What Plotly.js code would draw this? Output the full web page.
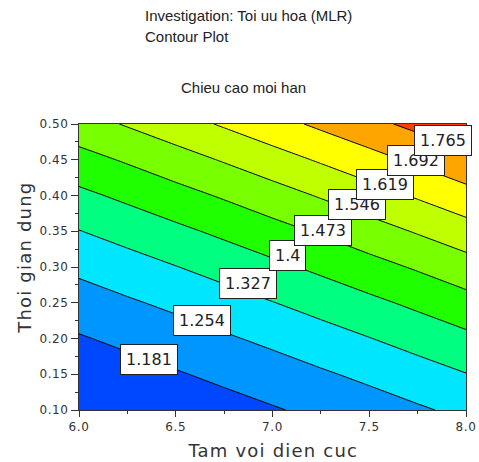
<!DOCTYPE html>
<html>
<head>
<meta charset="utf-8">
<script src="https://cdn.plot.ly/plotly-3.0.1.min.js"></script>
<style>
  html, body { margin: 0; padding: 0; background: #fff; }
  #chart { width: 479px; height: 462px; }
  .xtick text, .ytick text { letter-spacing: 0.6px; }
  .annotation[data-index="3"] text, .annotation[data-index="4"] text { letter-spacing: 1.2px; }
</style>
</head>
<body>
<div id="chart"></div>
<script>
// ---- data ----
const xVals = [6.0, 6.25, 6.5, 6.75, 7.0, 7.25, 7.5, 7.75, 8.0];          // Tam voi dien cuc
const yVals = [0.10, 0.15, 0.20, 0.25, 0.30, 0.35, 0.40, 0.45, 0.50];     // Thoi gian dung
const zRows = [                                                           // Chieu cao moi han
  [1.098, 1.115, 1.134, 1.154, 1.175, 1.197, 1.220, 1.245, 1.270],
  [1.134, 1.154, 1.175, 1.197, 1.220, 1.245, 1.270, 1.297, 1.325],
  [1.175, 1.197, 1.220, 1.245, 1.270, 1.297, 1.325, 1.354, 1.384],
  [1.220, 1.245, 1.270, 1.297, 1.325, 1.354, 1.384, 1.415, 1.448],
  [1.270, 1.297, 1.325, 1.354, 1.384, 1.415, 1.448, 1.481, 1.516],
  [1.325, 1.354, 1.384, 1.415, 1.448, 1.481, 1.516, 1.552, 1.589],
  [1.384, 1.415, 1.448, 1.481, 1.516, 1.552, 1.589, 1.627, 1.666],
  [1.448, 1.481, 1.516, 1.552, 1.589, 1.627, 1.666, 1.706, 1.748],
  [1.516, 1.552, 1.589, 1.627, 1.666, 1.706, 1.746, 1.784, 1.825]
];
const levels = [1.181, 1.254, 1.327, 1.4, 1.473, 1.546, 1.619, 1.692, 1.765];
const xTicks = [6.0, 6.5, 7.0, 7.5, 8.0];
const yTicks = [0.10, 0.15, 0.20, 0.25, 0.30, 0.35, 0.40, 0.45, 0.50];
const titleLines = ["Investigation: Toi uu hoa (MLR)", "Contour Plot"];
const plotTitle = "Chieu cao moi han";
const xTitle = "Tam voi dien cuc";
const yTitle = "Thoi gian dung";

// ---- styles / positions ----
const bandColors = ["#0048ff", "#0096ff", "#00e6ff", "#00ff80", "#20ff00",
                    "#78ff00", "#c0ff00", "#ffff00", "#ffa500", "#ff4000"];
const labelPos = [ // data-space centres of the boxed contour labels
  [6.361, 0.1713], [6.638, 0.2245], [6.873, 0.2776], [7.080, 0.3154], [7.260, 0.351],
  [7.439, 0.388], [7.581, 0.415], [7.742, 0.4483], [7.881, 0.4769]
];

const step = levels[1] - levels[0];
const colorscale = bandColors.map((c, i) => [i / (bandColors.length - 1), c]);

const trace = {
  type: 'contour',
  x: xVals, y: yVals, z: zRows,
  autocontour: false,
  contours: { start: levels[0], end: levels[levels.length - 1], size: step,
              coloring: 'fill', showlines: true, showlabels: false },
  colorscale: colorscale,
  showscale: false,
  line: { color: '#000', width: 1, smoothing: 0 },
  hoverinfo: 'skip'
};

const titleFont = { family: 'Liberation Sans, Arial, sans-serif', size: 15, color: '#222' };
const axFont = { family: 'DejaVu Sans, sans-serif', size: 18, color: '#333' };

const annotations = [
  { text: titleLines[0], xref: 'paper', yref: 'paper', x: 0.1654, y: 1.381, xanchor: 'left', yanchor: 'middle', showarrow: false, font: titleFont },
  { text: titleLines[1], xref: 'paper', yref: 'paper', x: 0.1654, y: 1.306, xanchor: 'left', yanchor: 'middle', showarrow: false, font: titleFont },
  { text: plotTitle, xref: 'paper', yref: 'paper', x: 0.425, y: 1.129, xanchor: 'center', yanchor: 'middle', showarrow: false, font: titleFont },
  { text: xTitle, xref: 'paper', yref: 'paper', x: 0.5, y: -0.143, xanchor: 'center', yanchor: 'middle', showarrow: false, font: axFont },
  { text: yTitle, xref: 'paper', yref: 'paper', x: -0.140, y: 0.533, xanchor: 'center', yanchor: 'middle', textangle: -90, showarrow: false, font: axFont }
];
levels.forEach((lv, i) => {
  annotations.push({
    text: String(lv), x: labelPos[i][0], y: labelPos[i][1], xref: 'x', yref: 'y',
    xanchor: 'center', yanchor: 'middle', showarrow: false,
    bgcolor: '#fff', bordercolor: '#222', borderwidth: 1, borderpad: 5,
    font: { family: 'DejaVu Sans, sans-serif', size: 16, color: '#222' }
  });
});

const tickFont = { family: 'DejaVu Sans, sans-serif', size: 12, color: '#333' };
const layout = {
  width: 479, height: 462,
  margin: { l: 79, r: 13, t: 124, b: 52, pad: 0 },
  paper_bgcolor: '#fff', plot_bgcolor: '#fff',
  showlegend: false,
  xaxis: {
    range: [xTicks[0], xTicks[xTicks.length - 1]], tickvals: xTicks, tickformat: '.1f',
    ticks: 'outside', ticklen: 6, tickcolor: '#333', tickfont: tickFont,
    minor: { dtick: 0.25, ticks: 'outside', ticklen: 3, tickcolor: '#333', showgrid: false },
    showgrid: false, zeroline: false, showline: true, mirror: true, linecolor: '#333', linewidth: 1
  },
  yaxis: {
    range: [yTicks[0], yTicks[yTicks.length - 1]], tickvals: yTicks, tickformat: '.2f',
    ticks: 'outside', ticklen: 7, tickcolor: '#333', tickfont: tickFont,
    minor: { dtick: 0.025, ticks: 'outside', ticklen: 3, tickcolor: '#333', showgrid: false },
    showgrid: false, zeroline: false, showline: true, mirror: true, linecolor: '#333', linewidth: 1
  },
  annotations: annotations
};

Plotly.newPlot('chart', [trace], layout, { staticPlot: true, displayModeBar: false });
</script>
</body>
</html>
